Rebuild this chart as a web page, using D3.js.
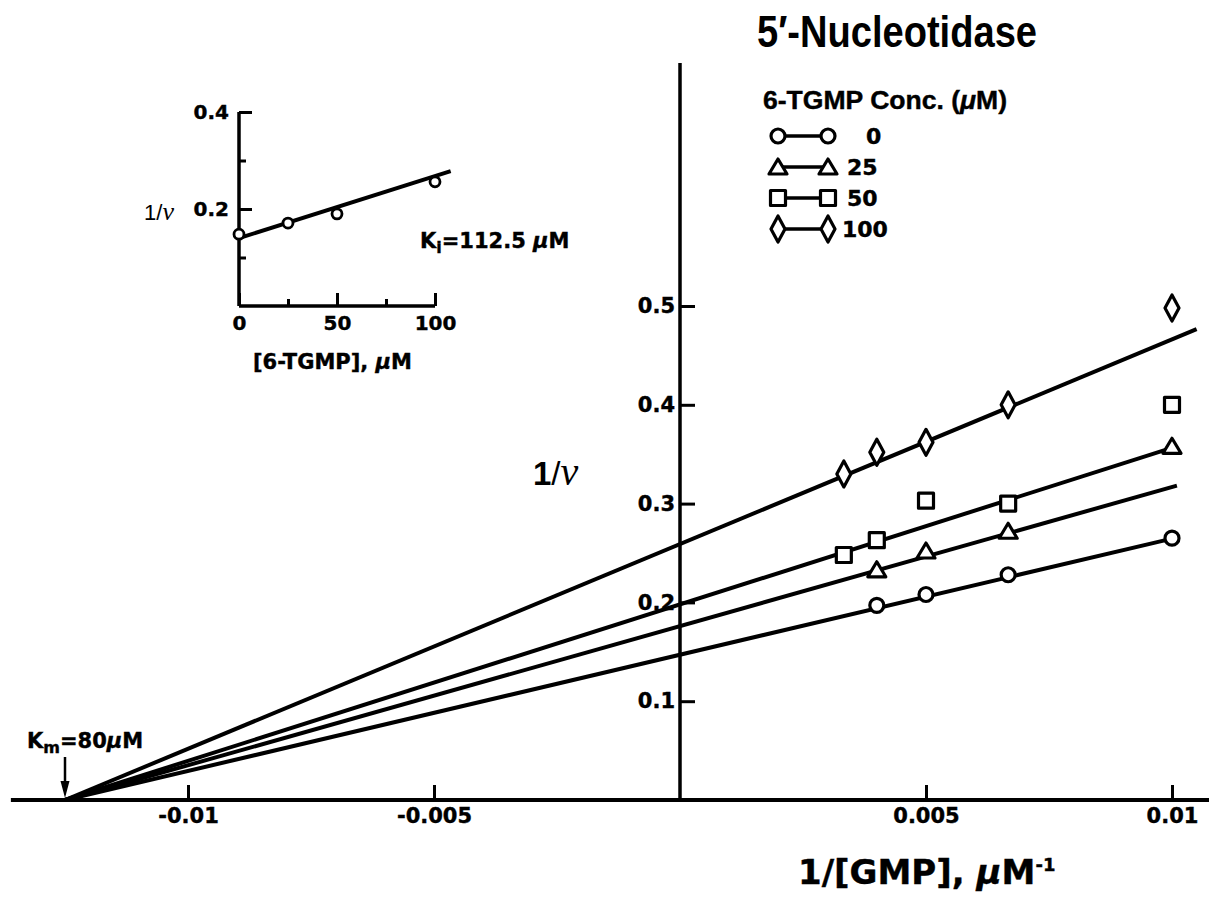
<!DOCTYPE html>
<html>
<head>
<meta charset="utf-8">
<script src="https://cdn.jsdelivr.net/npm/d3@7"></script>
<style>
body { margin: 0; background: #fff; }
svg { display: block; }
.num { font-family: 'DejaVu Sans', sans-serif; font-weight: bold; stroke: #000; stroke-width: 0.4px; }
.tick line { stroke: #000; stroke-width: 3; }
</style>
</head>
<body>
<div id="chart"></div>
<script>
// values
// main plot: 1/[GMP] (uM^-1) vs 1/v, one series per 6-TGMP concentration
let invGMP = [0.00333, 0.004, 0.005, 0.00667, 0.01];
let concLabels = ['0', '25', '50', '100'];
let invV0 = [null, 0.197, 0.208, 0.228, 0.265];
let invV25 = [null, 0.233, 0.252, 0.272, 0.358];
let invV50 = [0.248, 0.263, 0.303, 0.300, 0.400];
let invV100 = [0.330, 0.352, 0.362, 0.400, 0.498];
let shapes = ['circle', 'triangle', 'square', 'diamond'];

// fitted lines: all start at -1/Km and end at fitEnd
let kmX = -0.0125;
let fitIntercept = [0.147, 0.176, 0.198, 0.259];
let fitEnd = [0.01, 0.0101, 0.0099, 0.0105];

let xTicks = [-0.01, -0.005, 0.005, 0.01];
let xTickLabels = ['-0.01', '-0.005', '0.005', '0.01'];
let yTicks = [0.1, 0.2, 0.3, 0.4, 0.5];

// inset: [6-TGMP] vs 1/v
let insetConc = [0, 25, 50, 100];
let insetInvV = [0.148, 0.171, 0.190, 0.256];
let insetFitX = [0, 108];
let insetFitY = [0.140, 0.278];
let insetMajorX = [0, 50, 100];
let insetMinorX = [25, 75];
let insetMajorY = [0.2, 0.4];
let insetMinorY = [0.1, 0.3];

let svgWidth = 1209;
let svgHeight = 898;

let svg = d3.select('#chart').append('svg')
    .attr('width', svgWidth).attr('height', svgHeight);
svg.append('rect').attr('width', svgWidth).attr('height', svgHeight).attr('fill', '#fff');

// scales
let x = d3.scaleLinear().domain([-0.01, 0.01]).range([188, 1172]);
let y = d3.scaleLinear().domain([0, 0.5]).range([800, 306]);

// marker shapes
function markerPath(shape) {
    if (shape === 'circle') {
        return 'M-7,0A7,7 0 1,0 7,0A7,7 0 1,0 -7,0Z';
    } else if (shape === 'triangle') {
        return 'M0,-8L9,7L-9,7Z';
    } else if (shape === 'square') {
        return 'M-7.5,-7.5H7.5V7.5H-7.5Z';
    } else {
        return 'M0,-13L7,0L0,13L-7,0Z';
    }
}

function drawMarker(g, shape, cx, cy) {
    g.append('path')
        .attr('d', markerPath(shape))
        .attr('transform', `translate(${cx},${cy})`)
        .attr('fill', '#fff')
        .attr('stroke', '#000')
        .attr('stroke-width', 3.2)
        .attr('stroke-linejoin', 'round');
}

// axes lines
svg.append('line')
    .attr('x1', x(-0.0136)).attr('x2', x(0.0108))
    .attr('y1', y(0)).attr('y2', y(0))
    .attr('stroke', '#000').attr('stroke-width', 4);
svg.append('line')
    .attr('x1', x(0)).attr('x2', x(0))
    .attr('y1', y(0)).attr('y2', y(0.746))
    .attr('stroke', '#000').attr('stroke-width', 3.5);

// x ticks (pointing up)
let xAxisG = svg.append('g')
    .attr('transform', `translate(0, ${y(0)})`)
    .call(d3.axisBottom(x).tickValues(xTicks)
        .tickFormat((d, i) => xTickLabels[i])
        .tickSizeInner(-15).tickSizeOuter(0).tickPadding(8));
xAxisG.select('.domain').remove();
xAxisG.selectAll('text').attr('class', 'num').attr('font-size', 21).attr('fill', '#000');

// y ticks (pointing right)
let yAxisG = svg.append('g')
    .attr('transform', `translate(${x(0)}, 0)`)
    .call(d3.axisLeft(y).tickValues(yTicks)
        .tickFormat(d3.format('.1f'))
        .tickSizeInner(-15).tickSizeOuter(0).tickPadding(5));
yAxisG.select('.domain').remove();
yAxisG.selectAll('text').attr('class', 'num').attr('font-size', 21).attr('fill', '#000');

// fitted lines
let lineGen = d3.line().x(d => x(d[0])).y(d => y(d[1]));
fitIntercept.forEach(function(b, i) {
    let slope = b / -kmX;
    let pts = [[kmX, 0], [fitEnd[i], b + slope * fitEnd[i]]];
    svg.append('path')
        .attr('d', lineGen(pts))
        .attr('fill', 'none')
        .attr('stroke', '#000')
        .attr('stroke-width', 4);
});

// data markers
let allSeries = [invV0, invV25, invV50, invV100];
let markerG = svg.append('g');
allSeries.forEach(function(series, i) {
    series.forEach(function(v, j) {
        if (v === null) return;
        drawMarker(markerG, shapes[i], x(invGMP[j]), y(v));
    });
});

// Km arrow and label
let kmPx = x(kmX);
svg.append('line')
    .attr('x1', kmPx).attr('x2', kmPx)
    .attr('y1', 757).attr('y2', 786)
    .attr('stroke', '#000').attr('stroke-width', 2.5);
svg.append('path')
    .attr('d', `M${kmPx - 4.5},781L${kmPx + 4.5},781L${kmPx},798Z`)
    .attr('fill', '#000');
let kmText = svg.append('text')
    .attr('class', 'num').attr('x', 27).attr('y', 748)
    .attr('font-size', 21).attr('fill', '#000');
kmText.append('tspan').text('K');
kmText.append('tspan').attr('dy', 5).attr('font-size', 16).text('m');
kmText.append('tspan').attr('dy', -5).text('=80');
kmText.append('tspan').attr('font-style', 'italic').text('\u03bc');
kmText.append('tspan').text('M');

// main y label 1/v
let yLab = svg.append('text').attr('x', 533).attr('y', 485).attr('fill', '#000');
yLab.append('tspan').attr('font-family', 'Liberation Sans, Arial, sans-serif')
    .attr('font-weight', 'bold').attr('font-size', 33).text('1');
yLab.append('tspan').attr('font-family', 'Liberation Sans, Arial, sans-serif')
    .attr('font-size', 33).text('/');
yLab.append('tspan').attr('font-family', 'Liberation Serif, Times New Roman, serif')
    .attr('font-style', 'italic').attr('font-size', 40).text('v');

// main x label
let xLab = svg.append('text')
    .attr('class', 'num').attr('x', 798).attr('y', 884)
    .attr('font-size', 34).attr('fill', '#000');
xLab.append('tspan').text('1/[GMP], ');
xLab.append('tspan').attr('font-style', 'italic').text('\u03bc');
xLab.append('tspan').text('M');
xLab.append('tspan').attr('font-size', 18).attr('dy', -13).text('-1');

// title
svg.append('text')
    .attr('x', 757).attr('y', 47)
    .attr('font-family', 'Liberation Sans, Arial, sans-serif')
    .attr('font-weight', 'bold').attr('font-size', 44)
    .attr('textLength', 280).attr('lengthAdjust', 'spacingAndGlyphs')
    .attr('fill', '#000')
    .text('5\u2032-Nucleotidase');

// legend
let legTitle = svg.append('text')
    .attr('x', 763).attr('y', 109)
    .attr('font-family', 'Liberation Sans, Arial, sans-serif')
    .attr('font-weight', 'bold').attr('font-size', 25)
    .attr('stroke', '#000').attr('stroke-width', 0.4)
    .attr('textLength', 244).attr('lengthAdjust', 'spacingAndGlyphs')
    .attr('fill', '#000');
legTitle.append('tspan').text('6-TGMP Conc. (');
legTitle.append('tspan').attr('font-style', 'italic').text('\u03bc');
legTitle.append('tspan').text('M)');

let legendG = svg.append('g');
concLabels.forEach(function(lab, i) {
    let ly = 136 + i * 31;
    legendG.append('line')
        .attr('x1', 778).attr('x2', 828).attr('y1', ly).attr('y2', ly)
        .attr('stroke', '#000').attr('stroke-width', 3.5);
    drawMarker(legendG, shapes[i], 778, ly);
    drawMarker(legendG, shapes[i], 828, ly);
    legendG.append('text')
        .attr('class', 'num')
        .attr('x', lab === '0' ? 866 : (lab === '100' ? 842 : 847))
        .attr('y', ly + 8)
        .attr('font-size', 22).attr('fill', '#000')
        .text(lab);
});

// ---------- inset ----------
let xIn = d3.scaleLinear().domain([0, 100]).range([239, 435]);
let yIn = d3.scaleLinear().domain([0, 0.4]).range([306, 112]);

let inset = svg.append('g');
inset.append('line')
    .attr('x1', xIn(0)).attr('x2', xIn(100)).attr('y1', yIn(0)).attr('y2', yIn(0))
    .attr('stroke', '#000').attr('stroke-width', 3.5);
inset.append('line')
    .attr('x1', xIn(0)).attr('x2', xIn(0)).attr('y1', yIn(0)).attr('y2', yIn(0.4))
    .attr('stroke', '#000').attr('stroke-width', 3.5);

let inXMajor = inset.append('g')
    .attr('transform', `translate(0, ${yIn(0)})`)
    .call(d3.axisBottom(xIn).tickValues(insetMajorX).tickFormat(d3.format('d'))
        .tickSizeInner(-13).tickSizeOuter(0).tickPadding(10));
let inXMinor = inset.append('g')
    .attr('transform', `translate(0, ${yIn(0)})`)
    .call(d3.axisBottom(xIn).tickValues(insetMinorX).tickFormat('')
        .tickSizeInner(-7).tickSizeOuter(0));
let inYMajor = inset.append('g')
    .attr('transform', `translate(${xIn(0)}, 0)`)
    .call(d3.axisLeft(yIn).tickValues(insetMajorY).tickFormat(d3.format('.1f'))
        .tickSizeInner(-13).tickSizeOuter(0).tickPadding(10));
let inYMinor = inset.append('g')
    .attr('transform', `translate(${xIn(0)}, 0)`)
    .call(d3.axisLeft(yIn).tickValues(insetMinorY).tickFormat('')
        .tickSizeInner(-7).tickSizeOuter(0));
[inXMajor, inXMinor, inYMajor, inYMinor].forEach(function(g) {
    g.select('.domain').remove();
    g.selectAll('text').attr('class', 'num').attr('font-size', 20).attr('fill', '#000');
});

inset.append('path')
    .attr('d', d3.line().x(d => xIn(d[0])).y(d => yIn(d[1]))(insetFitX.map((v, i) => [v, insetFitY[i]])))
    .attr('fill', 'none').attr('stroke', '#000').attr('stroke-width', 4);

insetConc.forEach(function(c, i) {
    inset.append('circle')
        .attr('cx', xIn(c)).attr('cy', yIn(insetInvV[i])).attr('r', 5)
        .attr('fill', '#fff').attr('stroke', '#000').attr('stroke-width', 2.8);
});

// inset labels
let inYLab = inset.append('text')
    .attr('x', 174).attr('y', 220).attr('text-anchor', 'end').attr('fill', '#000');
inYLab.append('tspan').attr('font-family', 'Liberation Sans, Arial, sans-serif')
    .attr('font-size', 22).text('1/');
inYLab.append('tspan').attr('font-family', 'Liberation Serif, Times New Roman, serif')
    .attr('font-style', 'italic').attr('font-size', 26).text('v');

let inXLab = inset.append('text')
    .attr('class', 'num').attr('x', 253).attr('y', 369)
    .attr('font-size', 21).attr('fill', '#000');
inXLab.append('tspan').text('[6-TGMP], ');
inXLab.append('tspan').attr('font-style', 'italic').text('\u03bc');
inXLab.append('tspan').text('M');

let kiText = inset.append('text')
    .attr('class', 'num').attr('x', 420).attr('y', 248)
    .attr('font-size', 21).attr('fill', '#000');
kiText.append('tspan').text('K');
kiText.append('tspan').attr('dy', 5).attr('font-size', 16).text('i');
kiText.append('tspan').attr('dy', -5).text('=112.5 ');
kiText.append('tspan').attr('font-style', 'italic').text('\u03bc');
kiText.append('tspan').text('M');
</script>
</body>
</html>
